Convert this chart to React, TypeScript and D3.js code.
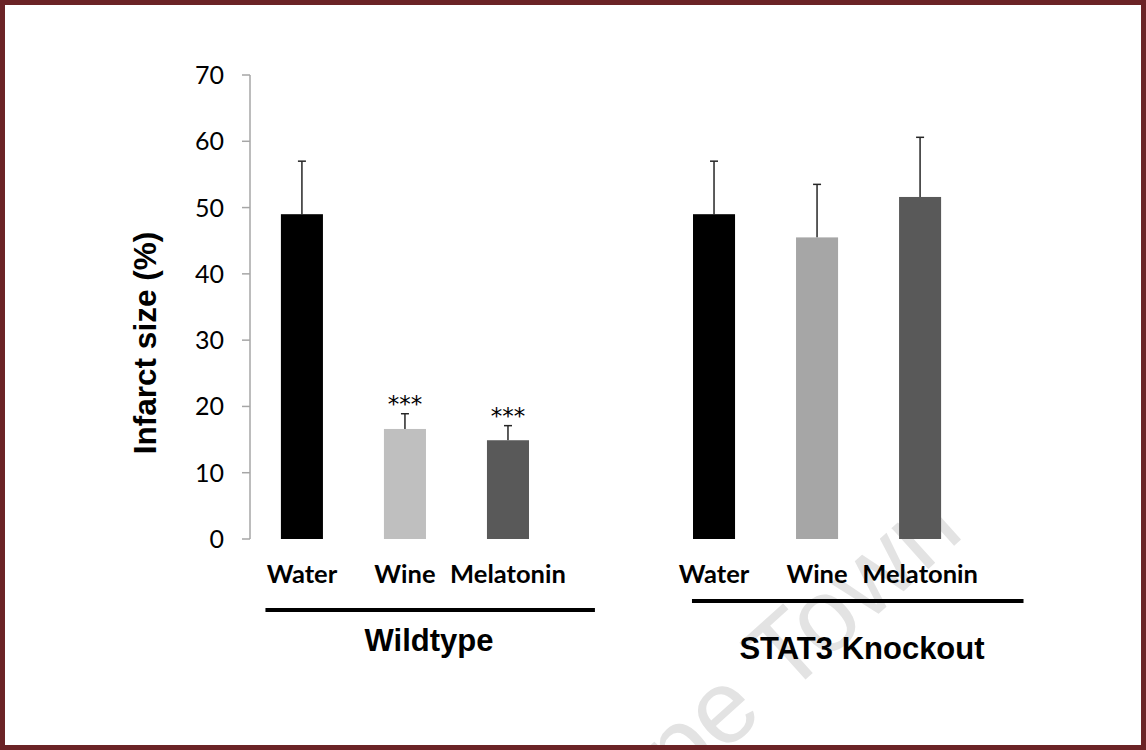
import * as d3 from "d3";

const treatments = ["Water", "Wine", "Melatonin"];
const groups = ["Wildtype", "STAT3 Knockout"];

const wildtypeMeans = [49.0, 16.6, 14.9];
const wildtypeErrors = [8.0, 2.3, 2.2];
const wildtypeStars = ["", "***", "***"];

const knockoutMeans = [49.0, 45.5, 51.6];
const knockoutErrors = [8.0, 8.0, 9.0];
const knockoutStars = ["", "", ""];

const yTicks = [0, 10, 20, 30, 40, 50, 60, 70];

const wildtypeColors = ["#000000", "#bfbfbf", "#595959"];
const knockoutColors = ["#000000", "#a6a6a6", "#595959"];

const W = 1146;
const H = 750;

export default function App() {
  // one empty slot between the two groups
  const slots = [
    ...treatments.map((t) => `Wildtype|${t}`),
    "gap",
    ...treatments.map((t) => `STAT3 Knockout|${t}`),
  ];

  const x = d3
    .scaleBand()
    .domain(slots)
    .range([250, 972])
    .paddingInner(0.592)
    .paddingOuter(0.3);

  const y = d3.scaleLinear().domain([0, 70]).range([539, 75]);

  const bars = [
    ...treatments.map((t, i) => ({
      key: `Wildtype|${t}`,
      label: t,
      value: wildtypeMeans[i],
      err: wildtypeErrors[i],
      stars: wildtypeStars[i],
      color: wildtypeColors[i],
    })),
    ...treatments.map((t, i) => ({
      key: `STAT3 Knockout|${t}`,
      label: t,
      value: knockoutMeans[i],
      err: knockoutErrors[i],
      stars: knockoutStars[i],
      color: knockoutColors[i],
    })),
  ];

  const bw = x.bandwidth();
  const step = x.step();

  // group underline + title layout (hand placed in the original)
  const groupLayout = [
    { name: groups[0], from: -0.15, to: 0.64, lineY: 610, labelX: 429, labelY: 651 },
    { name: groups[1], from: -0.01, to: 0.8, lineY: 601, labelX: 862, labelY: 659 },
  ];

  return (
    <>
      <style>{`body{margin:0}`}</style>
      <svg width={W} height={H} style={{ display: "block" }}>
        <rect x={0} y={0} width={W} height={H} fill="#fff" />

        {/* watermark */}
        <text
          transform="translate(966,535) rotate(-42)"
          textAnchor="end"
          fontFamily="Liberation Sans, Arial, sans-serif"
          fontSize={104}
          fill="#e3e3e3"
        >
          Cape Town
        </text>

        {/* y axis */}
        <line x1={250} x2={250} y1={y(0)} y2={y(70)} stroke="#a6a6a6" strokeWidth={1.5} />
        {yTicks.map((t) => (
          <g key={t}>
            <line x1={242} x2={250} y1={y(t)} y2={y(t)} stroke="#a6a6a6" strokeWidth={1.5} />
            <text
              x={224}
              y={y(t)}
              dy="0.36em"
              textAnchor="end"
              fontFamily="Lato, sans-serif"
              fontSize={25}
              fill="#000"
            >
              {t}
            </text>
          </g>
        ))}
        <text
          transform={`translate(156,343) rotate(-90)`}
          textAnchor="middle"
          fontFamily="Liberation Sans, Arial, sans-serif"
          fontWeight="bold"
          fontSize={31.5}
          fill="#000"
        >
          Infarct size (%)
        </text>

        {/* bars */}
        {bars.map((b) => {
          const bx = x(b.key) ?? 0;
          const cx = bx + bw / 2;
          const top = y(b.value + b.err);
          return (
            <g key={b.key}>
              <line x1={cx} x2={cx} y1={y(b.value)} y2={top} stroke="#262626" strokeWidth={1.5} />
              <line x1={cx - 4} x2={cx + 4} y1={top} y2={top} stroke="#262626" strokeWidth={1.5} />
              <rect x={bx} y={y(b.value)} width={bw} height={y(0) - y(b.value)} fill={b.color} />
              {b.stars && (
                <text
                  x={cx}
                  y={top - 1.5}
                  textAnchor="middle"
                  fontFamily="DejaVu Sans, sans-serif"
                  fontSize={23}
                  fill="#000"
                >
                  {b.stars}
                </text>
              )}
              <text
                x={cx}
                y={583}
                textAnchor="middle"
                fontFamily="Lato, sans-serif"
                fontWeight="bold"
                fontSize={25.5}
                fill="#000"
              >
                {b.label}
              </text>
            </g>
          );
        })}

        {/* group lines and titles */}
        {groupLayout.map((g) => {
          const first = x(`${g.name}|${treatments[0]}`) ?? 0;
          const last = (x(`${g.name}|${treatments[2]}`) ?? 0) + bw;
          return (
            <g key={g.name}>
              <line
                x1={first + g.from * step}
                x2={last + g.to * step}
                y1={g.lineY}
                y2={g.lineY}
                stroke="#000"
                strokeWidth={4}
              />
              <text
                x={g.labelX}
                y={g.labelY}
                textAnchor="middle"
                fontFamily="Liberation Sans, Arial, sans-serif"
                fontWeight="bold"
                fontSize={31}
                fill="#000"
              >
                {g.name}
              </text>
            </g>
          );
        })}

        {/* frame */}
        <rect x={2.5} y={2.5} width={W - 5} height={H - 5} fill="none" stroke="#6b2326" strokeWidth={5} />
      </svg>
    </>
  );
}
